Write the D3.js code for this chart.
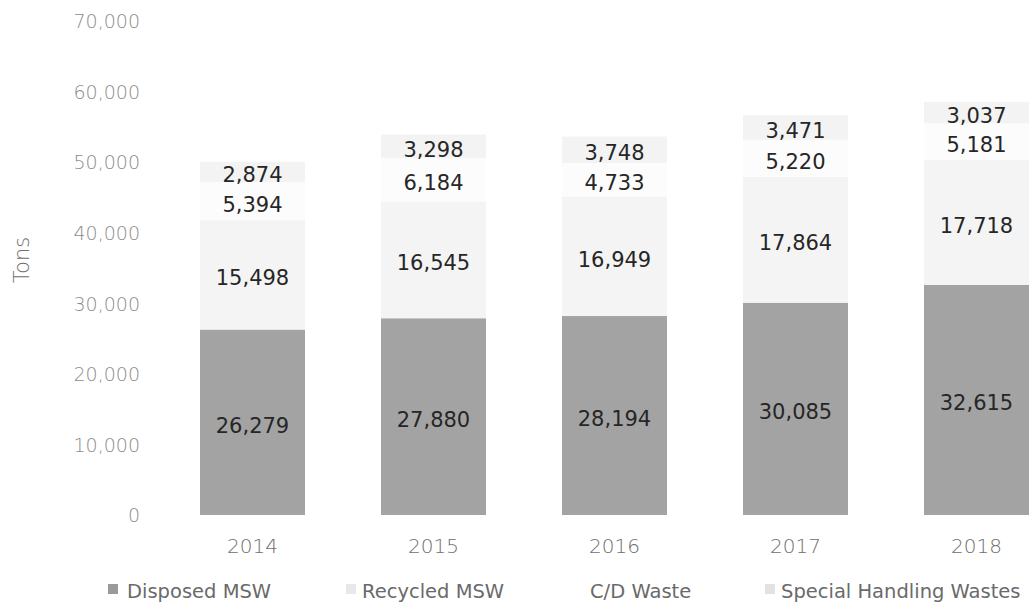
<!DOCTYPE html>
<html>
<head>
<meta charset="utf-8">
<script src="https://cdn.jsdelivr.net/npm/d3@7"></script>
<style>
  html, body { margin: 0; padding: 0; background: #fff; }
  svg { display: block; font-family: "DejaVu Sans", "Liberation Sans", sans-serif; }
</style>
</head>
<body>
<svg id="chart" width="1030" height="602"></svg>
<script>
// Annual waste tonnage by stream
const years = ["2014", "2015", "2016", "2017", "2018"];
const disposedMSW = [26279, 27880, 28194, 30085, 32615];
const recycledMSW = [15498, 16545, 16949, 17864, 17718];
const cdWaste = [5394, 6184, 4733, 5220, 5181];
const specialHandling = [2874, 3298, 3748, 3471, 3037];
const yTicks = [0, 10000, 20000, 30000, 40000, 50000, 60000, 70000];

const seriesNames = ["Disposed MSW", "Recycled MSW", "C/D Waste", "Special Handling Wastes"];
const seriesValues = [disposedMSW, recycledMSW, cdWaste, specialHandling];
const fills = ["#a3a3a3", "#f4f4f4", "#fcfcfc", "#f3f3f3"];
const swatches = ["#9a9a9a", "#e8e8e8", "#ffffff", "#e2e2e2"];

const svg = d3.select("#chart");

const rows = years.map((y, i) => {
  const r = { year: y };
  seriesNames.forEach((s, k) => { r[s] = seriesValues[k][i]; });
  return r;
});
const stacked = d3.stack().keys(seriesNames)(rows);

const x = d3.scaleBand().domain(years).range([162, 1067]).paddingInner(0.42).paddingOuter(0.21);
const y = d3.scaleLinear().domain([0, 70000]).range([515, 21]);

// y axis labels
const yAxis = svg.append("g")
  .attr("transform", "translate(140,0)")
  .call(d3.axisLeft(y).tickValues(yTicks).tickFormat(d3.format(",")).tickSize(0).tickPadding(0));
yAxis.select(".domain").remove();
yAxis.selectAll("text")
  .attr("fill", "#8c8c8c")
  .attr("font-size", 19)
  .attr("font-family", "'DejaVu Sans', sans-serif")
  .attr("font-weight", 200)
  .attr("dy", "0.36em");

svg.append("text")
  .attr("transform", "translate(29,260) rotate(-90)")
  .attr("text-anchor", "middle")
  .attr("fill", "#6e6e6e")
  .attr("font-size", 21)
  .attr("font-weight", 200)
  .text("Tons");

// x axis labels
const xAxis = svg.append("g")
  .attr("transform", "translate(0,539)")
  .call(d3.axisBottom(x).tickSize(0).tickPadding(0));
xAxis.select(".domain").remove();
xAxis.selectAll("text")
  .attr("fill", "#6e6e6e")
  .attr("font-size", 20)
  .attr("font-family", "'DejaVu Sans', sans-serif")
  .attr("font-weight", 200);

// stacked bars
const layers = svg.append("g").selectAll("g")
  .data(stacked)
  .join("g")
  .attr("fill", (d, i) => fills[i]);

layers.selectAll("rect")
  .data(d => d)
  .join("rect")
  .attr("x", d => x(d.data.year))
  .attr("width", x.bandwidth())
  .attr("y", d => y(d[1]))
  .attr("height", d => y(d[0]) - y(d[1]));

// value labels centred in each segment
layers.selectAll("text")
  .data((d) => d.map(v => ({ v, key: d.key })))
  .join("text")
  .attr("x", d => x(d.v.data.year) + x.bandwidth() / 2)
  .attr("y", d => (y(d.v[0]) + y(d.v[1])) / 2)
  .attr("dy", "0.5em")
  .attr("text-anchor", "middle")
  .attr("fill", "#262626")
  .attr("font-size", 21)
  .text(d => d3.format(",")(d.v.data[d.key]));

// legend
const legendX = [108, 346, 574, 765];
const legend = svg.append("g").selectAll("g")
  .data(seriesNames)
  .join("g")
  .attr("transform", (d, i) => `translate(${legendX[i]},590)`);
legend.append("rect")
  .attr("x", 0).attr("y", -6)
  .attr("width", 10).attr("height", 10)
  .attr("fill", (d, i) => swatches[i]);
legend.append("text")
  .attr("x", (d, i) => i === 0 ? 19 : 16)
  .attr("dy", "0.4em")
  .attr("fill", "#6a6a6a")
  .attr("font-size", 19.5)
  .text(d => d);
</script>
</body>
</html>
